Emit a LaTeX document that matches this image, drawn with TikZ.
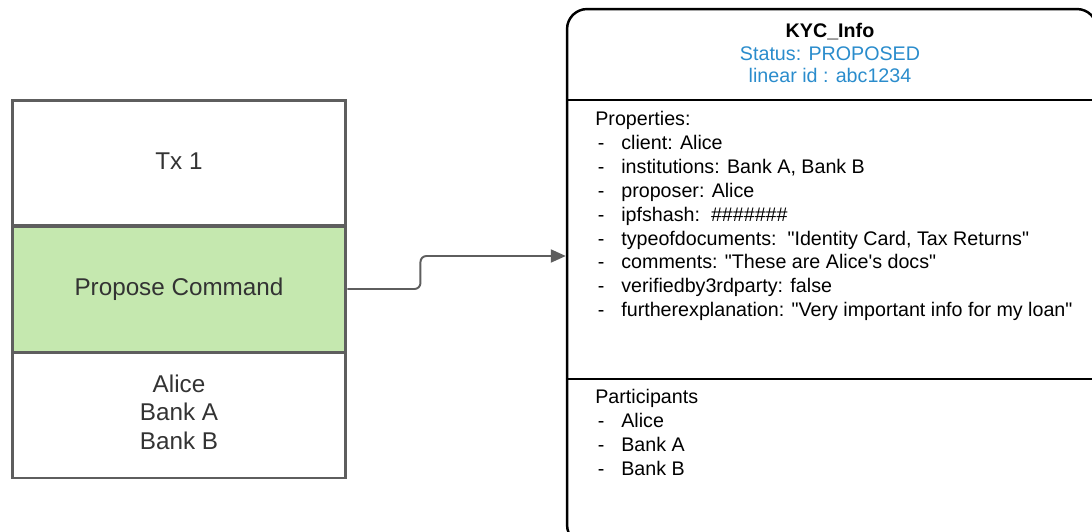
\documentclass[tikz,border=0pt]{standalone}
\usepackage{fontspec}
\setmainfont{Liberation Sans}
\usetikzlibrary{arrows.meta, positioning}
\definecolor{txgray}{HTML}{5E5E5E}
\definecolor{txtext}{HTML}{333333}
\definecolor{cmdgreen}{HTML}{C5E8AF}
\definecolor{stateblue}{HTML}{2A8CCC}
\tikzset{part/.style={rectangle,draw=txgray,line width=1.7pt,minimum width=6.68cm,minimum height=2.52cm,align=center,text=txtext,font=\fontsize{13.8}{16.2}\selectfont},
state/.style={rectangle,draw,rounded corners=0.4cm,line width=1.4pt,minimum width=10.6cm,minimum height=10.72cm},
info/.style={align=left,anchor=north west,inner sep=0pt,font=\fontsize{11.2}{13.6}\selectfont},
line/.style={-{Triangle[length=0.3cm,width=0.26cm]},draw=txgray,line width=1.1pt,rounded corners=0.12cm}}
\newcommand{\itm}[1]{\hspace*{0.05cm}\makebox[0.47cm][l]{-}#1}
\newcommand{\qt}{\textquotedbl}

\begin{document}
\begin{tikzpicture}[x=0.02cm, y=-0.02cm]
\path[use as bounding box, clip] (0,0) rectangle (1092,531);
% transaction
\node[part] (tx) at (179,163) {\raisebox{2pt}{Tx 1}};
\node[part, fill=cmdgreen] (cmd) at (179,289) {\raisebox{2pt}{Propose Command}};
\node[part] (parties) at (179,415) {\raisebox{2pt}{\begin{tabular}{@{}c@{}}Alice\\Bank A\\Bank B\end{tabular}}};
% output state
\node[state] (kyc) at (832,277) {};
\draw[line width=1.4pt] (kyc.west |- 0,100) -- (kyc.east |- 0,100);
\draw[line width=1.4pt] (kyc.west |- 0,379) -- (kyc.east |- 0,379);
\node[align=center, font=\fontsize{11.2}{13}\selectfont] (title) at (830,53) {\textbf{KYC\_Info}\\\textcolor{stateblue}{Status: PROPOSED}\\\textcolor{stateblue}{linear id : abc1234}};
\node[info] (props) at (595,111) {Properties:\\
\itm{client: Alice}\\
\itm{institutions: Bank A, Bank B}\\
\itm{proposer: Alice}\\
\itm{ipfshash:\ \ \#\#\#\#\#\#\#}\\
\itm{typeofdocuments:\ \ \qt Identity Card, Tax Returns\qt}\\
\itm{comments: \qt These are Alice\textquotesingle s docs\qt}\\
\itm{verifiedby3rdparty: false}\\
\itm{furtherexplanation: \qt Very important info for my loan\qt}};
\node[info] (members) at (595,389) {Participants\\
\itm{Alice}\\
\itm{Bank A}\\
\itm{Bank B}};
\coordinate (kycin) at (kyc.west |- 0,256);
\draw[line] (cmd.east) -- ++(73,0) |- (kycin);
\end{tikzpicture}
\end{document}
